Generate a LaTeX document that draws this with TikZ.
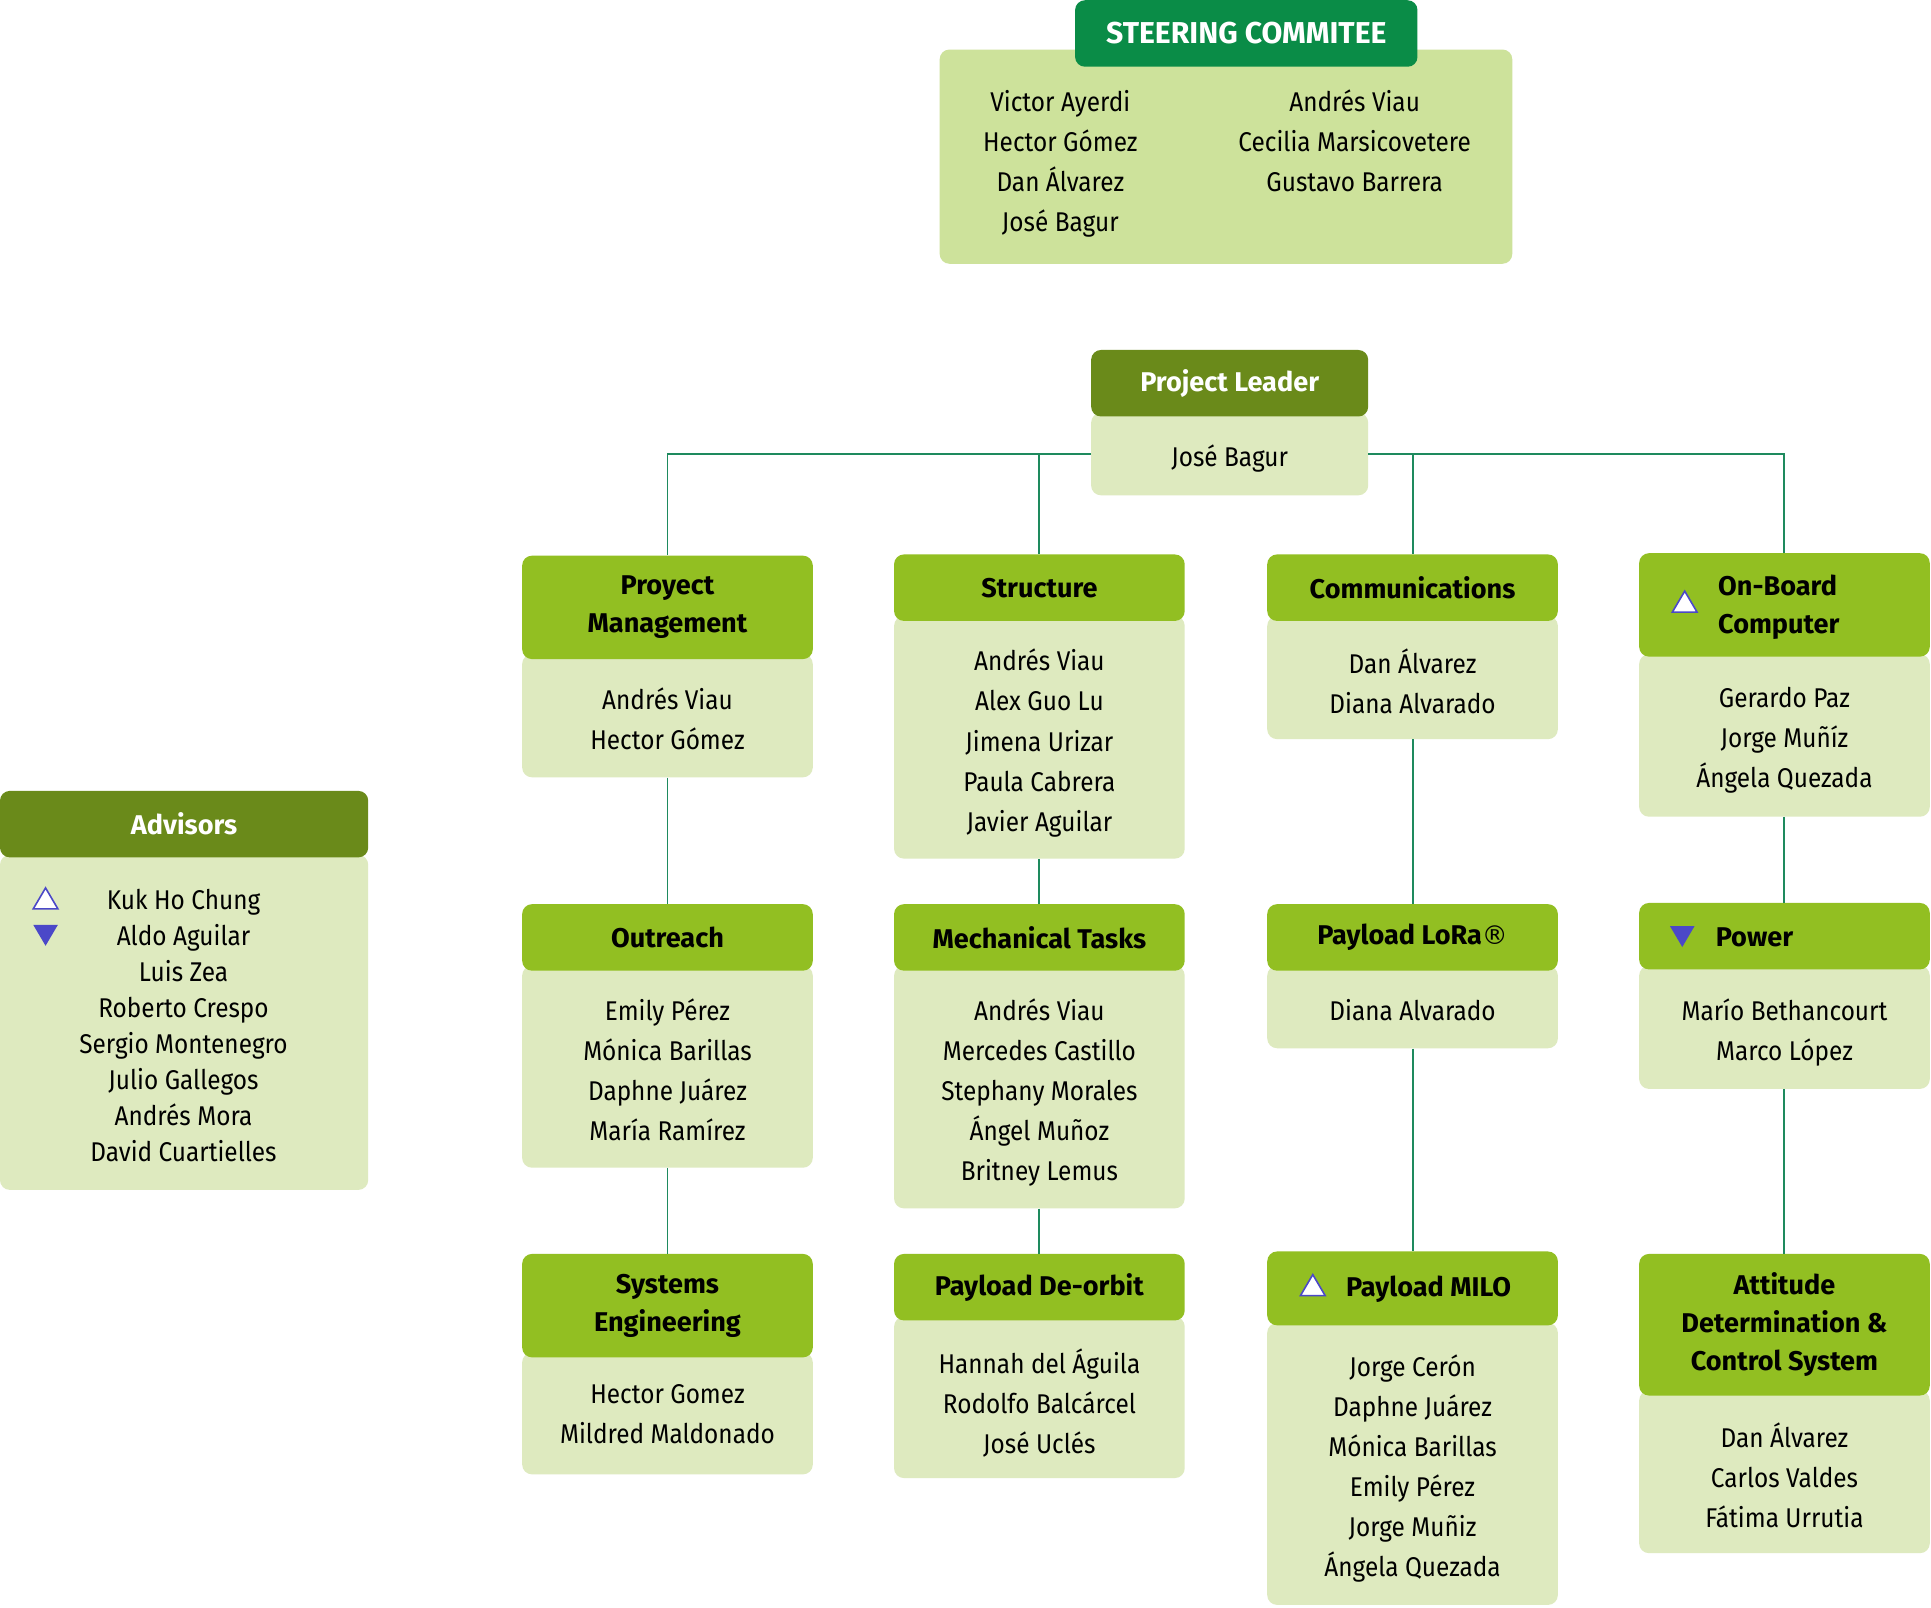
\documentclass[tikz,border=0pt]{standalone}
\usepackage{fontspec}
\setmainfont{Fira Sans}[FakeStretch=0.9]
\newfontfamily\hdrfont{Fira Sans}[FakeStretch=1.0]
\newfontfamily\symfont{DejaVu Sans}
\definecolor{sgreen}{HTML}{0A8C47}
\definecolor{sbody}{HTML}{CDE29B}
\definecolor{olive}{HTML}{6A8A1A}
\definecolor{hgreen}{HTML}{92BF22}
\definecolor{lbody}{HTML}{DEEABF}
\definecolor{lineC}{HTML}{1E8A5E}
\definecolor{triC}{HTML}{4B48C8}
\tikzset{
  boxbase/.style={rounded corners=8pt, inner sep=0pt, anchor=north, minimum width=236pt},
  hfont/.style={font=\hdrfont\bfseries\fontsize{22}{31}\selectfont},
  hdr/.style={boxbase, fill=hgreen, text=black, hfont, align=center},
  darkhdr/.style={boxbase, fill=olive, text=white, hfont, align=center},
  body/.style={boxbase, fill=lbody},
  names/.style={inner sep=0pt, text=black, font=\fontsize{22}{32.5}\selectfont, align=center, anchor=north},
  conn/.style={draw=lineC, line width=1.6pt},
  triopen/.style={draw=triC, fill=white, line width=1.3pt, line join=miter},
  trifull/.style={fill=triC, draw=none},
}
\begin{document}
\begin{tikzpicture}[x=1pt,y=-1pt]
\useasboundingbox[fill=white] (0,0) rectangle (1568,1305);

% Steering committee
\node[boxbase, fill=sbody, minimum width=465pt, minimum height=174pt] (scB) at (995.5,40) {};
\node[boxbase, fill=sgreen, minimum width=278pt, minimum height=54pt, text=white, font=\hdrfont\bfseries\fontsize{24.5}{31}\selectfont] (scH) at (1012,0) {STEERING COMMITEE};
\node[names] (scL) at (861,73) {Victor Ayerdi\\Hector Gómez\\Dan Álvarez\\José Bagur};
\node[names] (scR) at (1100,73) {Andrés Viau\\Cecilia Marsicovetere\\Gustavo Barrera};

% Project leader
\node[body, minimum width=225pt, minimum height=67pt] (plB) at (998.5,335) {};
\node[darkhdr, minimum width=225pt, minimum height=54pt] (plH) at (998.5,284) {Project Leader};
\node[names] (plN) at (998.5,361) {José Bagur};

% Advisors
\node[boxbase, fill=lbody, minimum width=299pt, minimum height=272pt] (adB) at (149.5,694) {};
\node[darkhdr, minimum width=299pt, minimum height=54pt] (adH) at (149.5,642) {Advisors};
\node[names, font=\fontsize{22}{29.2}\selectfont] (adN) at (149,722) {Kuk Ho Chung\\Aldo Aguilar\\Luis Zea\\Roberto Crespo\\Sergio Montenegro\\Julio Gallegos\\Andrés Mora\\David Cuartielles};
\draw[triopen] (27,738) -- (47,738) -- (37,721) -- cycle;
\draw[trifull] (27,751) -- (47,751) -- (37,768) -- cycle;

% Column 1
\node[body, minimum height=100pt] (pmB) at (542,531) {};
\node[hdr, minimum height=84pt] (pmH) at (542,451) {Proyect\\Management};
\node[names] (pmN) at (542,558) {Andrés Viau\\Hector Gómez};

\node[body, minimum height=164pt] (orB) at (542,784) {};
\node[hdr, minimum height=54pt] (orH) at (542,734) {Outreach};
\node[names] (orN) at (542,811) {Emily Pérez\\Mónica Barillas\\Daphne Juárez\\María Ramírez};

\node[body, minimum height=99pt] (seB) at (542,1098) {};
\node[hdr, minimum height=84pt] (seH) at (542,1018) {Systems\\Engineering};
\node[names] (seN) at (542,1124) {Hector Gomez\\Mildred Maldonado};

% Column 2
\node[body, minimum height=197pt] (stB) at (844,500) {};
\node[hdr, minimum height=54pt] (stH) at (844,450) {Structure};
\node[names] (stN) at (844,527) {Andrés Viau\\Alex Guo Lu\\Jimena Urizar\\Paula Cabrera\\Javier Aguilar};

\node[body, minimum height=197pt] (mtB) at (844,784) {};
\node[hdr, minimum height=54pt] (mtH) at (844,734) {Mechanical Tasks};
\node[names] (mtN) at (844,811) {Andrés Viau\\Mercedes Castillo\\Stephany Morales\\Ángel Muñoz\\Britney Lemus};

\node[body, minimum height=131pt] (pdB) at (844,1069) {};
\node[hdr, minimum height=54pt] (pdH) at (844,1018) {Payload De-orbit};
\node[names] (pdN) at (844,1095) {Hannah del Águila\\Rodolfo Balcárcel\\José Uclés};

% Column 3
\node[body, minimum height=100pt] (coB) at (1147,500) {};
\node[hdr, minimum height=54pt] (coH) at (1147,450) {Communications};
\node[names] (coN) at (1147,527) {Dan Álvarez\\Diana Alvarado};

\node[body, minimum height=67pt] (lrB) at (1147,784) {};
\node[hdr, minimum height=54pt] (lrH) at (1147,734) {Payload LoRa{\symfont\mdseries\fontsize{21}{31}\selectfont ®}};
\node[names] (lrN) at (1147,811) {Diana Alvarado};

\node[body, minimum height=229pt] (miB) at (1147,1074) {};
\node[hdr, minimum height=60pt] (miH) at (1147,1016) {};
\node[inner sep=0pt, hfont] (miT) at (1160,1047) {Payload MILO};
\draw[triopen] (1056,1052) -- (1076,1052) -- (1066,1035) -- cycle;
\node[names] (miN) at (1147,1100) {Jorge Cerón\\Daphne Juárez\\Mónica Barillas\\Emily Pérez\\Jorge Muñiz\\Ángela Quezada};

% Column 4
\node[body, minimum height=132pt] (obB) at (1449,531) {};
\node[hdr, minimum height=84pt] (obH) at (1449,449) {};
\node[inner sep=0pt, hfont, align=left, anchor=west] (obT) at (1395,493) {On-Board\\Computer};
\draw[triopen] (1358,497) -- (1378,497) -- (1368,480) -- cycle;
\node[names] (obN) at (1449,558) {Gerardo Paz\\Jorge Muñíz\\Ángela Quezada};

\node[body, minimum height=100pt] (pwB) at (1449,784) {};
\node[hdr, minimum height=54pt] (pwH) at (1449,733) {};
\node[inner sep=0pt, hfont, anchor=west] (pwT) at (1393,761) {Power};
\draw[trifull] (1356,752) -- (1376,752) -- (1366,769) -- cycle;
\node[names] (pwN) at (1449,811) {Marío Bethancourt\\Marco López};

\node[body, minimum height=132pt] (adcB) at (1449,1129) {};
\node[hdr, minimum height=115pt] (adcH) at (1449,1018) {Attitude\\Determination \&\\Control System};
\node[names] (adcN) at (1449,1155) {Dan Álvarez\\Carlos Valdes\\Fátima Urrutia};

% Connectors
\draw[conn] (plB.west) -| (pmH.north);
\draw[conn] (plB.west) -| (stH.north);
\draw[conn] (plB.east) -| (coH.north);
\draw[conn] (plB.east) -| (obH.north);
\draw[conn] (pmB.south) -- (orH.north);
\draw[conn] (orB.south) -- (seH.north);
\draw[conn] (stB.south) -- (mtH.north);
\draw[conn] (mtB.south) -- (pdH.north);
\draw[conn] (coB.south) -- (lrH.north);
\draw[conn] (lrB.south) -- (miH.north);
\draw[conn] (obB.south) -- (pwH.north);
\draw[conn] (pwB.south) -- (adcH.north);
\end{tikzpicture}
\end{document}
